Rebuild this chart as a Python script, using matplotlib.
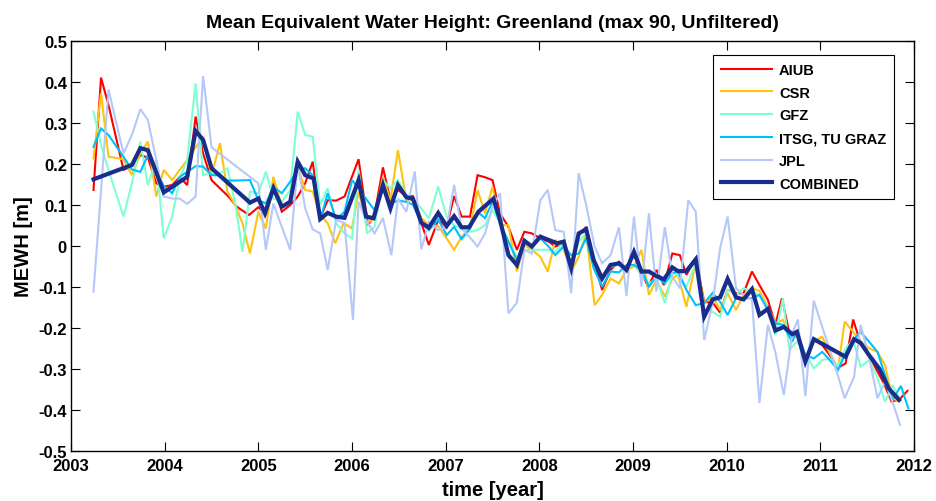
import matplotlib
matplotlib.use("Agg")
import matplotlib.pyplot as plt

plt.rcParams['font.family'] = ['Liberation Sans', 'DejaVu Sans']
plt.rcParams['font.weight'] = 'bold'

# ---- data (decimal year, MEWH in m) ----
aiub_t = [2003.24, 2003.32, 2003.40, 2003.56, 2003.65, 2003.74, 2003.82, 2003.91, 2003.99, 2004.08,
          2004.16, 2004.24, 2004.33, 2004.41, 2004.50, 2004.59, 2004.68, 2004.77, 2004.90, 2005.00,
          2005.08, 2005.16, 2005.25, 2005.34, 2005.42, 2005.50, 2005.58, 2005.66, 2005.74, 2005.83,
          2005.92, 2006.07, 2006.17, 2006.24, 2006.33, 2006.41, 2006.49, 2006.58, 2006.65, 2006.74,
          2006.82, 2006.92, 2007.01, 2007.09, 2007.17, 2007.26, 2007.34, 2007.42, 2007.50, 2007.58,
          2007.67, 2007.76, 2007.84, 2007.92, 2008.01, 2008.10, 2008.17, 2008.26, 2008.34, 2008.42,
          2008.50, 2008.58, 2008.67, 2008.76, 2008.85, 2008.93, 2009.01, 2009.09, 2009.16, 2009.25,
          2009.33, 2009.42, 2009.50, 2009.57, 2009.67, 2009.76, 2009.85, 2009.93, 2010.01, 2010.10,
          2010.18, 2010.27, 2010.35, 2010.44, 2010.52, 2010.59, 2010.67, 2010.75, 2010.84, 2010.93,
          2011.02, 2011.10, 2011.18, 2011.27, 2011.35, 2011.43, 2011.52, 2011.60, 2011.68, 2011.76,
          2011.84, 2011.93]
aiub_v = [0.136, 0.410, 0.343, 0.185, 0.194, 0.221, 0.215, 0.152, 0.144, 0.148,
          0.167, 0.148, 0.315, 0.225, 0.160, 0.140, 0.120, 0.095, 0.075, 0.094,
          0.075, 0.152, 0.083, 0.099, 0.120, 0.152, 0.205, 0.067, 0.111, 0.110,
          0.120, 0.211, 0.050, 0.075, 0.191, 0.111, 0.136, 0.121, 0.121, 0.055,
          0.002, 0.063, 0.046, 0.121, 0.071, 0.071, 0.172, 0.167, 0.160, 0.079,
          0.046, -0.010, 0.034, 0.030, 0.018, 0.010, -0.002, 0.006, -0.047, 0.026,
          0.046, -0.035, -0.108, -0.059, -0.039, -0.055, -0.023, -0.063, -0.100, -0.059,
          -0.096, -0.019, -0.023, -0.071, -0.031, -0.137, -0.139, -0.163, -0.108, -0.116,
          -0.116, -0.063, -0.096, -0.132, -0.193, -0.128, -0.214, -0.218, -0.279, -0.226,
          -0.242, -0.267, -0.299, -0.287, -0.180, -0.238, -0.267, -0.303, -0.336, -0.380,
          -0.376, -0.354]

csr_t = [2003.24, 2003.32, 2003.40, 2003.56, 2003.65, 2003.74, 2003.82, 2003.91, 2003.99, 2004.08,
         2004.16, 2004.24, 2004.33, 2004.41, 2004.50, 2004.59, 2004.67, 2004.76, 2004.83, 2004.91,
         2005.00, 2005.08, 2005.16, 2005.25, 2005.34, 2005.42, 2005.50, 2005.58, 2005.66, 2005.74,
         2005.82, 2005.91, 2006.00, 2006.07, 2006.16, 2006.24, 2006.33, 2006.41, 2006.49, 2006.58,
         2006.65, 2006.74, 2006.82, 2006.92, 2007.01, 2007.09, 2007.17, 2007.26, 2007.34, 2007.42,
         2007.50, 2007.58, 2007.67, 2007.76, 2007.84, 2007.92, 2008.01, 2008.09, 2008.17, 2008.26,
         2008.34, 2008.42, 2008.50, 2008.59, 2008.67, 2008.76, 2008.85, 2008.93, 2009.01, 2009.09,
         2009.17, 2009.25, 2009.34, 2009.42, 2009.48, 2009.57, 2009.67, 2009.76, 2009.85, 2009.93,
         2010.01, 2010.10, 2010.18, 2010.27, 2010.35, 2010.44, 2010.52, 2010.60, 2010.67, 2010.75,
         2010.84, 2010.93, 2011.02, 2011.10, 2011.19, 2011.26, 2011.35, 2011.43, 2011.52, 2011.61,
         2011.69, 2011.77, 2011.84]
csr_v = [0.213, 0.372, 0.217, 0.211, 0.172, 0.225, 0.254, 0.120, 0.185, 0.160,
         0.185, 0.209, 0.240, 0.266, 0.172, 0.250, 0.132, 0.095, 0.055, -0.019,
         0.083, 0.042, 0.168, 0.095, 0.111, 0.193, 0.136, 0.132, 0.075, 0.055,
         0.006, 0.055, 0.042, 0.132, 0.055, 0.067, 0.168, 0.111, 0.233, 0.111,
         0.111, 0.067, 0.050, 0.048, 0.018, -0.010, 0.022, 0.042, 0.136, 0.079,
         0.144, 0.050, 0.050, -0.063, 0.002, -0.010, -0.027, -0.063, 0.014, -0.009,
         -0.063, -0.027, 0.030, -0.145, -0.120, -0.080, -0.092, -0.059, -0.051, -0.010,
         -0.120, -0.084, -0.124, -0.080, -0.071, -0.149, -0.039, -0.140, -0.124, -0.157,
         -0.116, -0.157, -0.120, -0.104, -0.110, -0.149, -0.189, -0.181, -0.214, -0.222,
         -0.271, -0.234, -0.222, -0.262, -0.299, -0.185, -0.210, -0.234, -0.250, -0.259,
         -0.291, -0.372, -0.380]

gfz_t = [2003.24, 2003.32, 2003.40, 2003.56, 2003.65, 2003.74, 2003.82, 2003.91, 2003.99, 2004.08,
         2004.16, 2004.24, 2004.33, 2004.41, 2004.50, 2004.59, 2004.67, 2004.76, 2004.83, 2004.91,
         2005.00, 2005.08, 2005.16, 2005.25, 2005.34, 2005.42, 2005.50, 2005.58, 2005.66, 2005.74,
         2005.83, 2005.92, 2006.00, 2006.07, 2006.16, 2006.24, 2006.33, 2006.41, 2006.49, 2006.58,
         2006.65, 2006.74, 2006.82, 2006.92, 2007.01, 2007.09, 2007.17, 2007.26, 2007.34, 2007.42,
         2007.50, 2007.58, 2007.67, 2007.76, 2007.84, 2007.92, 2008.01, 2008.10, 2008.17, 2008.26,
         2008.34, 2008.42, 2008.50, 2008.58, 2008.67, 2008.76, 2008.85, 2008.93, 2009.01, 2009.09,
         2009.17, 2009.25, 2009.34, 2009.42, 2009.48, 2009.57, 2009.67, 2009.76, 2009.85, 2009.93,
         2010.01, 2010.10, 2010.18, 2010.27, 2010.35, 2010.44, 2010.52, 2010.60, 2010.67, 2010.75,
         2010.84, 2010.93, 2011.02, 2011.10, 2011.19, 2011.27, 2011.35, 2011.43, 2011.52, 2011.61,
         2011.69, 2011.77, 2011.84]
gfz_v = [0.327, 0.246, 0.185, 0.071, 0.152, 0.254, 0.148, 0.209, 0.018, 0.071,
         0.164, 0.209, 0.396, 0.172, 0.177, 0.177, 0.189, 0.095, -0.015, 0.132,
         0.128, 0.181, 0.115, 0.107, 0.136, 0.327, 0.270, 0.266, 0.099, 0.140,
         0.055, 0.030, 0.018, 0.185, 0.030, 0.046, 0.160, 0.140, 0.160, 0.124,
         0.115, 0.091, 0.067, 0.144, 0.071, 0.050, 0.042, 0.034, 0.038, 0.050,
         0.087, 0.055, 0.010, -0.027, -0.010, -0.010, -0.010, -0.010, -0.015, 0.006,
         -0.055, 0.010, 0.030, -0.047, -0.075, -0.051, -0.047, -0.051, -0.047, -0.071,
         -0.092, -0.080, -0.140, -0.067, -0.071, -0.100, -0.043, -0.157, -0.161, -0.173,
         -0.108, -0.120, -0.104, -0.112, -0.120, -0.153, -0.218, -0.128, -0.254, -0.234,
         -0.262, -0.299, -0.279, -0.275, -0.295, -0.250, -0.230, -0.295, -0.279, -0.323,
         -0.380, -0.340, -0.370]

itsg_t = [2003.24, 2003.32, 2003.40, 2003.56, 2003.65, 2003.74, 2003.82, 2003.91, 2003.99, 2004.08,
          2004.16, 2004.24, 2004.33, 2004.41, 2004.50, 2004.59, 2004.67, 2004.76, 2004.91, 2005.00,
          2005.08, 2005.16, 2005.25, 2005.34, 2005.42, 2005.50, 2005.58, 2005.66, 2005.74, 2005.83,
          2005.92, 2006.00, 2006.07, 2006.16, 2006.24, 2006.33, 2006.41, 2006.49, 2006.58, 2006.65,
          2006.74, 2006.82, 2006.92, 2007.01, 2007.09, 2007.17, 2007.26, 2007.34, 2007.42, 2007.50,
          2007.58, 2007.67, 2007.76, 2007.84, 2007.92, 2008.01, 2008.10, 2008.17, 2008.26, 2008.34,
          2008.42, 2008.50, 2008.58, 2008.67, 2008.76, 2008.85, 2008.93, 2009.01, 2009.09, 2009.17,
          2009.25, 2009.34, 2009.42, 2009.48, 2009.57, 2009.67, 2009.76, 2009.85, 2009.93, 2010.01,
          2010.10, 2010.18, 2010.27, 2010.35, 2010.44, 2010.52, 2010.60, 2010.70, 2010.75, 2010.84,
          2010.93, 2011.02, 2011.10, 2011.19, 2011.27, 2011.35, 2011.43, 2011.52, 2011.61, 2011.69,
          2011.77, 2011.86, 2011.94]
itsg_v = [0.241, 0.286, 0.270, 0.217, 0.186, 0.180, 0.221, 0.180, 0.146, 0.128,
          0.168, 0.180, 0.194, 0.193, 0.172, 0.172, 0.159, 0.159, 0.160, 0.111,
          0.103, 0.144, 0.128, 0.156, 0.185, 0.189, 0.172, 0.063, 0.128, 0.063,
          0.083, 0.160, 0.140, 0.111, 0.087, 0.136, 0.103, 0.110, 0.107, 0.100,
          0.055, 0.038, 0.064, 0.026, 0.046, 0.016, 0.042, 0.083, 0.067, 0.107,
          0.055, 0.010, -0.035, 0.006, 0.002, 0.018, -0.002, -0.023, -0.002, -0.023,
          -0.019, 0.018, -0.055, -0.100, -0.063, -0.065, -0.047, -0.047, -0.059, -0.100,
          -0.075, -0.092, -0.067, -0.063, -0.108, -0.145, -0.140, -0.115, -0.137, -0.169,
          -0.128, -0.128, -0.128, -0.120, -0.157, -0.189, -0.193, -0.234, -0.209, -0.267,
          -0.275, -0.259, -0.279, -0.303, -0.262, -0.230, -0.210, -0.234, -0.259, -0.315,
          -0.376, -0.342, -0.397]

jpl_t = [2003.24, 2003.40, 2003.56, 2003.65, 2003.74, 2003.82, 2003.91, 2003.99, 2004.08, 2004.16,
         2004.24, 2004.33, 2004.41, 2004.50, 2005.00, 2005.08, 2005.16, 2005.25, 2005.34, 2005.42,
         2005.50, 2005.58, 2005.66, 2005.74, 2005.83, 2005.92, 2006.01, 2006.07, 2006.16, 2006.24,
         2006.33, 2006.42, 2006.49, 2006.58, 2006.67, 2006.74, 2006.82, 2006.92, 2007.01, 2007.09,
         2007.17, 2007.26, 2007.34, 2007.42, 2007.50, 2007.58, 2007.67, 2007.76, 2007.84, 2007.92,
         2008.01, 2008.09, 2008.17, 2008.26, 2008.34, 2008.42, 2008.50, 2008.59, 2008.67, 2008.76,
         2008.85, 2008.93, 2009.01, 2009.09, 2009.17, 2009.25, 2009.34, 2009.42, 2009.50, 2009.59,
         2009.67, 2009.76, 2009.85, 2009.93, 2010.01, 2010.10, 2010.18, 2010.27, 2010.35, 2010.44,
         2010.52, 2010.61, 2010.70, 2010.76, 2010.84, 2010.93, 2011.02, 2011.10, 2011.18, 2011.26,
         2011.36, 2011.43, 2011.52, 2011.61, 2011.69, 2011.77, 2011.85]
jpl_v = [-0.112, 0.381, 0.225, 0.270, 0.333, 0.307, 0.209, 0.120, 0.115, 0.115,
         0.102, 0.120, 0.414, 0.240, 0.152, -0.010, 0.103, 0.046, -0.010, 0.201,
         0.091, 0.040, 0.030, -0.059, 0.063, 0.055, -0.181, 0.107, 0.058, 0.030,
         0.067, -0.023, 0.115, 0.083, 0.181, -0.009, 0.058, 0.038, 0.045, 0.148,
         0.042, 0.020, -0.002, 0.030, 0.095, 0.128, -0.165, -0.139, -0.010, -0.019,
         0.111, 0.136, 0.038, 0.034, -0.116, 0.177, 0.099, -0.002, -0.043, -0.023,
         0.045, -0.123, 0.071, -0.100, 0.079, -0.112, 0.045, -0.075, -0.104, 0.111,
         0.083, -0.230, -0.140, -0.006, 0.071, -0.104, -0.120, -0.132, -0.384, -0.193,
         -0.260, -0.364, -0.214, -0.180, -0.367, -0.134, -0.198, -0.254, -0.311, -0.372,
         -0.320, -0.193, -0.271, -0.372, -0.332, -0.380, -0.437]

comb_t = [2003.24, 2003.65, 2003.74, 2003.82, 2003.99, 2004.24, 2004.33, 2004.41, 2004.50, 2004.91,
          2005.00, 2005.07, 2005.16, 2005.25, 2005.34, 2005.42, 2005.50, 2005.59, 2005.66, 2005.74,
          2005.83, 2005.92, 2006.07, 2006.15, 2006.23, 2006.33, 2006.41, 2006.49, 2006.58, 2006.65,
          2006.74, 2006.82, 2006.92, 2007.01, 2007.09, 2007.17, 2007.25, 2007.35, 2007.43, 2007.51,
          2007.58, 2007.67, 2007.76, 2007.84, 2007.92, 2008.01, 2008.10, 2008.19, 2008.26, 2008.34,
          2008.42, 2008.50, 2008.58, 2008.67, 2008.76, 2008.85, 2008.93, 2009.01, 2009.09, 2009.17,
          2009.25, 2009.33, 2009.42, 2009.48, 2009.57, 2009.67, 2009.76, 2009.85, 2009.93, 2010.01,
          2010.10, 2010.18, 2010.27, 2010.35, 2010.44, 2010.52, 2010.61, 2010.70, 2010.75, 2010.84,
          2010.93, 2011.27, 2011.36, 2011.43, 2011.52, 2011.63, 2011.73, 2011.84]
comb_v = [0.162, 0.197, 0.238, 0.233, 0.130, 0.168, 0.280, 0.258, 0.189, 0.105,
          0.115, 0.079, 0.140, 0.095, 0.107, 0.205, 0.172, 0.164, 0.065, 0.080,
          0.071, 0.068, 0.160, 0.071, 0.067, 0.148, 0.091, 0.148, 0.118, 0.115,
          0.056, 0.044, 0.080, 0.048, 0.072, 0.045, 0.045, 0.083, 0.099, 0.115,
          0.063, -0.023, -0.047, 0.012, -0.002, 0.022, 0.014, 0.006, 0.010, -0.055,
          0.030, 0.040, -0.035, -0.080, -0.047, -0.043, -0.059, -0.015, -0.063, -0.063,
          -0.074, -0.082, -0.053, -0.062, -0.062, -0.033, -0.173, -0.131, -0.126, -0.081,
          -0.126, -0.131, -0.106, -0.169, -0.154, -0.207, -0.198, -0.216, -0.210, -0.283,
          -0.228, -0.271, -0.228, -0.237, -0.267, -0.300, -0.348, -0.376]

series = [
    ("AIUB", aiub_t, aiub_v, "#FF0000", 1.5),
    ("CSR", csr_t, csr_v, "#FFC20E", 1.5),
    ("GFZ", gfz_t, gfz_v, "#7FFFD0", 1.5),
    ("ITSG, TU GRAZ", itsg_t, itsg_v, "#00BFFF", 1.5),
    ("JPL", jpl_t, jpl_v, "#B4C8FA", 1.5),
    ("COMBINED", comb_t, comb_v, "#192D8C", 3.0),
]

xticks = list(range(2003, 2013))
yticks = [0.5, 0.4, 0.3, 0.2, 0.1, 0, -0.1, -0.2, -0.3, -0.4, -0.5]
ytick_labels = ["0.5", "0.4", "0.3", "0.2", "0.1", "0", "-0.1", "-0.2", "-0.3", "-0.4", "-0.5"]

fig = plt.figure(figsize=(9.36, 5.02), dpi=100)
ax = fig.add_axes([0.0759, 0.1002, 0.9006, 0.8167])

for name, t, v, col, lw in series:
    ax.plot(t, v, color=col, lw=lw, label=name, solid_joinstyle="miter")

ax.set_xlim(2003, 2012)
ax.set_ylim(-0.5, 0.5)
ax.set_xticks(xticks)
ax.set_xticklabels([str(x) for x in xticks])
ax.set_yticks(yticks)
ax.set_yticklabels(ytick_labels)
ax.tick_params(direction="in", length=6.5, width=0.8, top=True, right=True,
               labelsize=12)
ax.tick_params(axis="x", pad=5)
ax.tick_params(axis="y", pad=3)
for lab in ax.get_xticklabels() + ax.get_yticklabels():
    lab.set_fontweight("bold")
for sp in ax.spines.values():
    sp.set_linewidth(1.0)

ax.set_title("Mean Equivalent Water Height: Greenland (max 90, Unfiltered)",
             fontsize=14, fontweight="bold", pad=10)
ax.set_xlabel("time [year]", fontsize=14.5, fontweight="bold", labelpad=5)
ax.set_ylabel("MEWH [m]", fontsize=14.5, fontweight="bold", labelpad=4)

leg = ax.legend(loc="upper right", bbox_to_anchor=(0.9765, 0.9658), fancybox=False,
                edgecolor="black", framealpha=1, fontsize=10.5, handlelength=3.5,
                handletextpad=0.45, labelspacing=0.6, borderpad=0.55,
                borderaxespad=0)
leg.get_frame().set_linewidth(0.8)
for txt in leg.get_texts():
    txt.set_fontweight("bold")

fig.savefig("out.png", dpi=100, facecolor="white")
